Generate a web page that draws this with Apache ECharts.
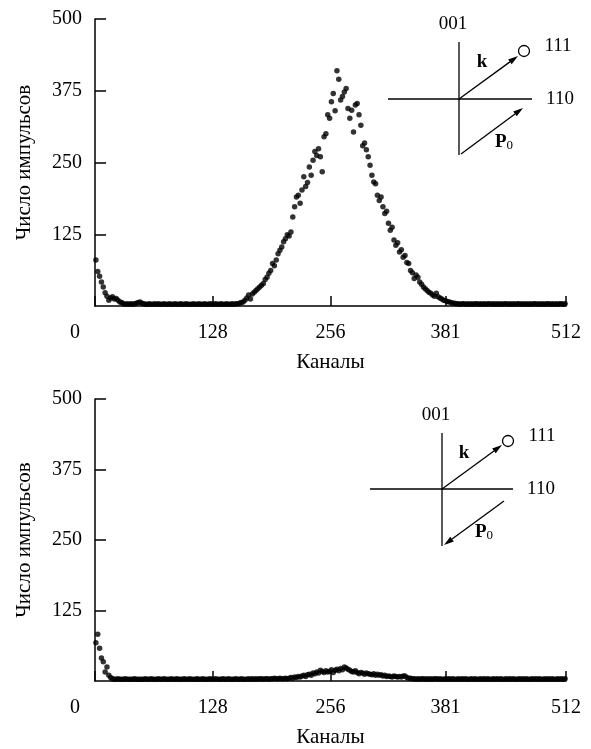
<html>
<head>
	<meta charset="UTF-8">
	<script src="https://cdn.jsdelivr.net/npm/echarts@6/dist/echarts.min.js"></script>
</head>
<body style="margin:0;background:#fff;">
<div id="chart" style="width:591px;height:749px;"></div>
<script type="text/javascript">

// каналы идут с шагом 2, первый канал = 1
var channelStart = 1
var channelStep = 2

// верхний спектр
var countsTop = [
    80,60,52,42,33,23,17,10,14,16,12,13,10,7,6,4,3,4,3,4,3,4,5,6,7,5,
    4,3,3,4,3,3,4,3,4,3, 3,4,3,3,4,3,3,4,3,3, 4,3,3,4,3,3,3,4,3,3,
    4,3,3,4,3,3,4,3,3,4, 3,3,4,3,3,4,3,3,4,3, 4,4,5,
    6,7,10,14,19,12,21,24,27,30,
    33,36,39,46,50,57,62,74,70,80,
    91,97,103,112,117,124,122,129,155,173,
    190,193,179,202,225,208,215,242,228,254,
    269,262,274,260,234,295,300,333,327,356,
    370,340,410,395,359,365,373,379,344,327,
    341,303,350,353,333,315,279,284,272,260,
    245,228,216,213,193,184,190,173,161,165,
    144,132,137,115,106,110,94,98,85,88,
    76,74,62,58,48,54,50,42,38,33,
    30,27,24,22,19,17,22,16,14,12,
    10,9,8,7,6,5,
    5,4,4,3,4,4,3,4,3,4, 3,4,4,3,4,3,4,3,4,4, 3,4,3,4,3,4,3,4,4,3,
    4,3,4,3,4,4,3,4,3,4, 3,4,3,4,4,3,4,3,4,3, 4,4,3,4,3,4,3,4,4,3, 4
]

// нижний спектр
var countsBottom = [
    68,83,58,41,34,16,25,10,6,4, 3,3,4,3,3,3,4,3,3,3, 3,4,3,3,3,3,
    3,4,3,3,4,3,3,3,4,3, 3,4,3,3,3,4,3,3,4,3, 3,3,4,3,3,4,3,3,3,4,
    3,3,4,3,3,3,4,3,3,4, 3,3,3,4,3,3,4,3,3,3, 4,3,3,4,3,3,3,4,3,4,
    3,4,3,4,4,3,4,4,3,4, 4,5,4,4,5,4,4,5,4,
    5,6,5,7,6,8,7,9,10,8,
    11,12,10,14,13,16,14,19,17,15,
    18,16,17,20,15,19,21,18,22,20,
    25,23,21,19,17,16,18,15,13,15,
    14,12,14,13,12,11,13,10,12,10,
    11,9,10,8,9,8,7,9,8,7,
    8,7,9,9,6,5,
    5,4,4,3,4,3,4,4,3,4, 3,4,3,4,4,3,4,3,3,4, 3,4,3,4,3,3,4,3,4,3,
    4,3,3,4,3,4,3,3,4,3, 4,3,4,3,3,4,3,4,3,4, 3,3,4,3,4,3,4,3,3,4,
    3,4,3,4,3,3,4,3,4,3, 4,3,3,4,3,4,3,4,3,3, 4,3,4,3,4
]

var xTicks = [0, 128, 256, 381, 512]
var yMax = 500
var yStep = 125
var xName = 'Каналы'
var yName = 'Число импульсов'

var FONT = "'Liberation Serif', 'Times New Roman', serif"

function toPoints(counts) {
    var pts = []
    for (var i = 0; i < counts.length; i++) {
        pts.push([channelStart + i * channelStep, counts[i]])
    }
    return pts
}

function makeX(idx) {
    return {
        gridIndex: idx, type: 'value', min: 0, max: 512,
        axisLine: {show: true, onZero: false, lineStyle: {color: '#000', width: 1.5}},
        axisTick: {show: true, inside: true, length: 10, customValues: xTicks,
            lineStyle: {color: '#000', width: 1.5}},
        axisLabel: {
            customValues: xTicks, margin: 17, color: '#000', fontSize: 20, fontFamily: FONT,
            formatter: function (v) { return v === 0 ? '{z|0}' : String(v) },
            rich: {z: {padding: [0, 40, 0, 0], fontSize: 20, fontFamily: FONT, color: '#000'}}
        },
        splitLine: {show: false},
        name: xName, nameLocation: 'middle', nameGap: 46,
        nameTextStyle: {color: '#000', fontSize: 21, fontFamily: FONT}
    }
}

function makeY(idx) {
    return {
        gridIndex: idx, type: 'value', min: 0, max: yMax, interval: yStep,
        axisLine: {show: true, lineStyle: {color: '#000', width: 1.5}},
        axisTick: {show: true, inside: true, length: 11, lineStyle: {color: '#000', width: 1.5}},
        axisLabel: {showMinLabel: false, margin: 13, color: '#000', fontSize: 20, fontFamily: FONT},
        splitLine: {show: false},
        name: yName, nameLocation: 'middle', nameGap: 60,
        nameTextStyle: {color: '#000', fontSize: 21, fontFamily: FONT}
    }
}

// стрелка: линия + треугольник на конце
function arrow(x1, y1, x2, y2) {
    var dx = x2 - x1, dy = y2 - y1
    var len = Math.sqrt(dx * dx + dy * dy)
    var ux = dx / len, uy = dy / len
    var bx = x2 - ux * 10, by = y2 - uy * 10
    return [
        {type: 'line', shape: {x1: x1, y1: y1, x2: bx, y2: by}, style: {stroke: '#000', lineWidth: 1.3}},
        {type: 'polygon', shape: {points: [[x2, y2], [bx + uy * 3, by - ux * 3], [bx - uy * 3, by + ux * 3]]},
            style: {fill: '#000'}}
    ]
}

function txt(x, y, s, extra) {
    var st = {text: s, x: x, y: y, fill: '#000', font: '19px ' + FONT, align: 'center', verticalAlign: 'middle'}
    if (extra) for (var k in extra) st[k] = extra[k]
    return {type: 'text', style: st}
}

function inset(o, reverseP) {
    var els = []
    els.push({type: 'line', shape: {x1: o.vx, y1: o.vTop, x2: o.vx, y2: o.vBot}, style: {stroke: '#000', lineWidth: 1.3}})
    els.push({type: 'line', shape: {x1: o.hL, y1: o.hy, x2: o.hR, y2: o.hy}, style: {stroke: '#000', lineWidth: 1.3}})
    els = els.concat(arrow(o.vx, o.hy, o.kx, o.ky))
    els.push({type: 'circle', shape: {cx: o.cx, cy: o.cy, r: 5.5}, style: {fill: '#fff', stroke: '#000', lineWidth: 1.3}})
    if (reverseP) els = els.concat(arrow(o.p2x, o.p2y, o.p1x, o.p1y))
    else els = els.concat(arrow(o.p1x, o.p1y, o.p2x, o.p2y))
    els.push(txt(o.vx - 6, o.vTop - 18, '001'))
    els.push(txt(o.hR + 28, o.hy, '110'))
    els.push(txt(o.cx + 34, o.cy - 5, '111'))
    els.push(txt(o.kLx, o.kLy, 'k', {font: 'bold 19px ' + FONT}))
    els.push({type: 'text', style: {text: '{b|P}{s|0}', x: o.pLx, y: o.pLy, align: 'center', verticalAlign: 'middle',
        rich: {b: {font: 'bold 19px ' + FONT, fill: '#000'},
               s: {font: '13px ' + FONT, fill: '#000', padding: [8, 0, 0, 0]}}}})
    return els
}

var insetTop = inset({vx: 459, vTop: 42, vBot: 155, hL: 388, hR: 532, hy: 99,
    kx: 518, ky: 56, cx: 524, cy: 51,
    p1x: 461, p1y: 154, p2x: 523, p2y: 108,
    kLx: 482, kLy: 62, pLx: 504, pLy: 142}, false)

var insetBottom = inset({vx: 442, vTop: 433, vBot: 546, hL: 370, hR: 513, hy: 489,
    kx: 502, ky: 445, cx: 508, cy: 441,
    p1x: 444, p1y: 545, p2x: 504, p2y: 501,
    kLx: 464, kLy: 453, pLx: 484, pLy: 532}, true)

var myChart = echarts.init(document.getElementById('chart'))

var option = {
    backgroundColor: '#fff',
    animation: false,
    grid: [
        {left: 95, width: 471, top: 19, height: 287},
        {left: 95, width: 471, top: 399, height: 287}
    ],
    xAxis: [makeX(0), makeX(1)],
    yAxis: [makeY(0), makeY(1)],
    series: [
        {type: 'scatter', xAxisIndex: 0, yAxisIndex: 0, data: toPoints(countsTop),
            symbolSize: 5.5, itemStyle: {color: '#000'}},
        {type: 'scatter', xAxisIndex: 1, yAxisIndex: 1, data: toPoints(countsBottom),
            symbolSize: 5.5, itemStyle: {color: '#000'}}
    ],
    graphic: insetTop.concat(insetBottom)
}

myChart.setOption(option)

</script>
</body>
</html>
